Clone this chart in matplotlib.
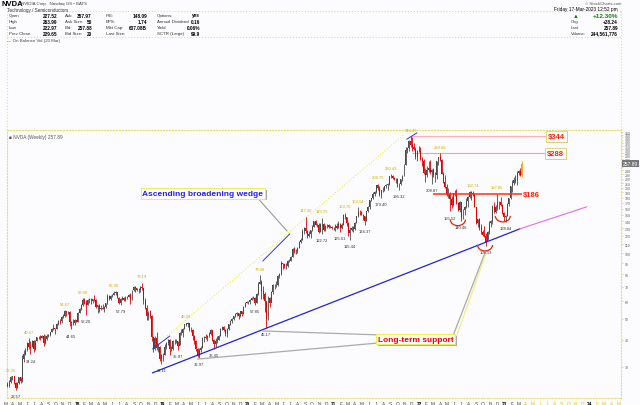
import matplotlib
matplotlib.use("Agg")
import matplotlib.pyplot as plt
import matplotlib.dates as mdates
import matplotlib.patheffects as pe
import numpy as np
import pandas as pd
from matplotlib.patches import Arc
from matplotlib.ticker import NullLocator
from matplotlib.transforms import ScaledTranslation

plt.rcParams['font.family'] = ['Liberation Sans', 'DejaVu Sans']

##------------------- data: weekly NVDA candles (split adjusted) -------------------##
first_week = '2017-03-10'
first_open = 25.0
last_open = 227.52

close_2017 = [24.6, 25.6, 26.9, 27.2, 25.4, 24.0, 25.2, 26.9, 25.8, 32.5, 34.3, 35.8, 38.6, 37.2, 37.1,
              39.3, 36.1, 39.3, 41.0, 41.0, 40.9, 41.7, 38.6, 40.2, 41.6, 42.1, 43.4, 44.6, 45.1, 44.7,
              47.1, 48.9, 48.6, 50.8, 51.3, 54.0, 53.5, 53.9, 48.1, 47.7, 47.6, 49.4, 48.4]
high_2017 = [25.6, 26.0, 27.35, 27.3, 27.2, 25.6, 25.5, 27.0, 26.9, 34.0, 36.0, 36.8, 38.9, 40.67, 39.5,
             40.0, 40.0, 39.7, 41.3, 41.5, 42.0, 42.1, 42.3, 42.0, 42.4, 42.5, 43.6, 45.2, 47.1, 45.5,
             47.6, 49.5, 49.6, 51.2, 52.5, 54.67, 54.0, 54.3, 54.0, 48.8, 49.6, 49.8, 49.5]
low_2017 = [24.2, 24.2, 25.3, 26.0, 25.0, 23.57, 24.0, 25.0, 25.3, 25.5, 31.5, 34.0, 35.5, 36.4, 34.24,
            37.0, 35.2, 35.8, 39.3, 40.2, 39.8, 40.7, 37.5, 38.4, 40.0, 41.2, 41.6, 43.2, 44.2, 42.6,
            44.6, 47.0, 47.2, 48.0, 50.2, 50.8, 51.7, 52.6, 46.5, 44.65, 46.7, 47.0, 48.2]

close_2018 = [53.3, 55.5, 57.5, 61.2, 58.8, 58.0, 60.8, 61.8, 60.0, 61.3, 61.2, 56.5, 57.9, 55.5, 56.0,
              55.5, 56.8, 58.8, 63.7, 61.5, 63.7, 64.5, 65.5, 66.2, 62.5, 59.2, 61.7, 62.5, 61.2, 62.5,
              63.2, 64.2, 61.2, 67.5, 70.2, 69.2, 67.5, 67.5, 70.2, 68.8, 61.2, 56.0, 51.2, 53.3, 51.2,
              41.0, 36.3, 40.8, 36.5, 37.0, 32.5, 34.0]
high_2018 = [53.6, 56.0, 58.3, 62.0, 62.1, 61.0, 61.8, 62.0, 62.5, 61.6, 64.3, 61.6, 58.0, 58.5, 57.6,
             58.1, 57.2, 59.0, 64.7, 64.0, 64.0, 65.2, 66.9, 66.7, 66.3, 63.0, 62.0, 63.3, 63.0, 63.8,
             63.8, 65.0, 65.5, 67.9, 70.5, 70.8, 69.5, 68.9, 70.8, 73.19, 69.5, 62.5, 57.5, 54.5, 54.8,
             52.0, 41.5, 41.5, 43.3, 38.5, 37.5, 34.3]
low_2018 = [48.5, 53.0, 54.8, 57.3, 58.5, 52.2, 57.5, 59.2, 58.3, 58.8, 60.3, 55.8, 53.0, 53.5, 55.0,
            55.2, 53.7, 56.0, 58.5, 60.8, 61.0, 62.8, 64.0, 64.2, 62.0, 58.3, 57.79, 61.2, 60.5, 60.5,
            61.5, 62.8, 58.5, 61.0, 67.0, 66.5, 66.8, 65.8, 66.5, 67.5, 58.2, 55.5, 49.2, 49.5, 50.5,
            39.5, 35.0, 36.0, 35.8, 35.0, 32.0, 31.11]

close_2019 = [34.2, 37.0, 38.8, 40.0, 36.3, 36.2, 39.5, 39.3, 39.3, 37.5, 43.0, 42.8, 45.0, 47.0, 47.5,
              47.5, 44.5, 44.5, 41.5, 39.5, 36.2, 33.8, 36.0, 36.5, 40.8, 41.0, 40.8, 41.5, 42.5, 44.2,
              40.0, 38.3, 39.3, 40.0, 41.8, 45.0, 45.7, 44.5, 42.5, 45.0, 47.0, 48.8, 50.0, 51.2, 52.5,
              53.0, 51.2, 54.2, 52.5, 56.7, 59.2, 59.5]
high_2019 = [34.8, 38.2, 39.0, 40.5, 40.2, 37.5, 40.0, 40.2, 40.2, 39.5, 43.4, 44.6, 45.2, 47.3, 48.0,
             48.1, 47.8, 45.8, 44.8, 42.0, 39.8, 36.5, 36.5, 37.5, 41.0, 41.6, 42.3, 42.0, 43.5, 44.7,
             44.4, 40.5, 40.8, 41.5, 42.0, 45.3, 46.4, 46.2, 45.0, 45.3, 47.5, 49.2, 50.5, 51.5, 53.0,
             53.5, 53.2, 54.5, 54.5, 57.0, 59.8, 60.3]
low_2019 = [31.9, 34.0, 36.2, 38.0, 34.0, 35.4, 36.0, 38.3, 38.5, 35.97, 37.8, 41.9, 41.4, 44.8, 46.2,
            46.0, 44.0, 43.5, 39.8, 38.3, 35.6, 33.5, 32.97, 35.3, 36.5, 39.0, 40.3, 39.5, 41.0, 42.0,
            39.3, 36.45, 37.0, 38.8, 39.8, 41.5, 44.5, 44.0, 41.8, 41.4, 44.5, 46.8, 48.0, 49.3, 50.8,
            51.7, 50.0, 51.0, 51.3, 52.3, 56.3, 58.8]

close_2020 = [59.9, 61.0, 62.5, 62.5, 59.2, 65.0, 72.5, 73.8, 67.0, 65.0, 60.0, 49.8, 62.0, 59.0, 66.2,
              71.2, 71.2, 71.2, 78.7, 80.0, 90.0, 88.7, 87.5, 87.5, 92.5, 92.5, 96.2, 105.0, 102.0, 102.5,
              106.0, 112.5, 115.5, 127.0, 131.0, 126.0, 120.0, 122.5, 127.5, 132.5, 140.0, 135.0, 135.0,
              125.0, 136.0, 136.0, 127.5, 133.8, 135.0, 132.5, 132.5, 130.0]
high_2020 = [60.0, 61.5, 63.0, 63.5, 62.8, 65.4, 73.5, 79.08, 75.0, 70.5, 66.5, 60.5, 63.5, 63.0, 67.0,
             72.5, 72.0, 74.5, 79.0, 81.0, 92.0, 90.3, 89.5, 90.0, 93.3, 94.0, 97.0, 105.8, 106.5, 104.0,
             107.0, 114.0, 117.0, 128.5, 132.0, 147.3, 128.0, 126.0, 128.0, 135.0, 141.0, 141.5, 137.5,
             137.5, 137.5, 145.75, 137.0, 135.0, 136.5, 136.0, 135.0, 133.5]
low_2020 = [58.5, 58.6, 60.8, 61.5, 57.85, 59.0, 64.5, 72.0, 61.5, 61.8, 53.5, 45.17, 49.5, 56.5, 59.5,
            65.0, 68.3, 70.0, 70.5, 76.5, 79.5, 84.3, 85.7, 84.5, 86.5, 91.0, 92.0, 95.8, 99.8, 99.0,
            100.5, 105.5, 111.0, 115.0, 122.0, 124.0, 117.5, 118.5, 118.0, 127.0, 132.0, 134.5, 131.5,
            123.8, 125.5, 122.72, 126.5, 127.0, 131.0, 130.5, 130.0, 128.5]

close_2021 = [130.5, 133.2, 130.0, 136.0, 130.0, 135.0, 150.0, 146.0, 137.5, 123.8, 127.5, 130.0, 128.8,
              137.5, 147.5, 155.0, 153.8, 150.0, 147.5, 141.2, 156.0, 162.5, 175.0, 178.8, 186.0, 190.0,
              205.0, 200.0, 185.0, 195.0, 195.0, 203.0, 205.0, 208.0, 226.0, 226.0, 222.0, 219.0, 220.0,
              207.0, 208.0, 218.0, 227.0, 255.0, 297.0, 304.0, 329.0, 315.0, 306.0, 302.0, 277.0, 296.0,
              294.0]
high_2021 = [131.5, 136.0, 137.0, 140.0, 138.0, 137.5, 151.5, 153.7, 147.0, 139.0, 132.0, 133.0, 133.5,
             139.0, 148.5, 162.14, 158.0, 157.0, 151.5, 148.0, 157.0, 164.0, 176.0, 179.5, 190.0, 192.0,
             206.0, 208.75, 204.0, 196.0, 200.5, 204.0, 207.0, 210.0, 227.0, 230.43, 229.0, 225.0, 222.0,
             221.0, 210.5, 219.0, 229.0, 258.0, 308.0, 307.0, 332.0, 346.47, 341.0, 320.0, 306.0, 297.5,
             310.0]
low_2021 = [128.3, 127.0, 128.5, 129.8, 125.61, 129.5, 134.5, 144.0, 133.0, 120.5, 115.44, 126.0, 124.5,
            128.0, 137.0, 146.0, 150.5, 149.0, 142.5, 134.37, 141.0, 155.0, 160.0, 173.0, 176.5, 184.0,
            189.5, 195.0, 184.0, 179.40, 191.5, 192.0, 199.0, 195.5, 206.0, 222.0, 220.0, 216.5, 209.5,
            201.5, 195.32, 206.0, 215.5, 226.0, 254.0, 290.0, 296.0, 309.0, 295.0, 298.0, 271.0, 264.0,
            292.0]

close_2022 = [272.0, 265.0, 233.0, 228.0, 240.0, 245.0, 236.0, 242.0, 229.0, 229.0, 264.0, 276.0, 268.0,
              232.0, 212.0, 202.0, 185.0, 187.0, 177.0, 167.0, 188.0, 187.0, 170.0, 158.0, 171.0, 145.0,
              158.0, 163.0, 173.0, 181.0, 191.0, 188.0, 187.0, 163.0, 137.0, 143.0, 131.0, 125.0, 121.0,
              120.0, 112.0, 125.0, 138.0, 141.0, 163.0, 154.0, 163.0, 171.0, 172.0, 166.0, 153.0, 146.0]
high_2022 = [307.0, 276.0, 270.0, 245.0, 252.0, 265.0, 267.0, 244.0, 245.0, 236.0, 265.0, 277.5, 289.46,
             272.0, 235.0, 228.0, 208.0, 200.0, 190.0, 184.0, 189.0, 196.0, 198.0, 172.0, 173.0, 172.0,
             160.0, 164.0, 180.0, 182.5, 192.0, 192.0, 192.74, 188.0, 163.5, 144.0, 145.0, 136.0, 128.0,
             133.5, 123.5, 126.0, 140.0, 142.0, 167.0, 171.0, 166.0, 187.85, 174.0, 182.0, 168.0, 154.0]
low_2022 = [268.0, 252.0, 232.0, 213.0, 225.0, 237.0, 230.0, 208.87, 225.0, 212.5, 218.0, 255.0, 265.0,
            230.0, 211.0, 200.0, 182.5, 180.0, 155.52, 161.0, 164.0, 183.5, 169.0, 155.7, 155.0, 140.46,
            143.0, 149.0, 162.0, 163.0, 180.0, 175.0, 183.0, 162.5, 136.5, 132.0, 128.0, 123.0, 119.5,
            119.0, 108.13, 115.0, 123.0, 132.5, 136.0, 153.0, 153.5, 158.0, 159.5, 164.0, 151.0, 140.5]

close_2023 = [148.6, 169.0, 178.4, 203.7, 211.0, 217.1, 213.9, 232.9, 239.6, 229.65, 257.89]
high_2023 = [150.0, 169.5, 179.5, 204.0, 216.0, 225.0, 229.0, 238.0, 241.0, 245.0, 263.99]
low_2023 = [138.84, 148.0, 165.0, 177.5, 190.5, 206.0, 211.0, 205.0, 228.0, 226.0, 222.97]

# swing-point labels printed on the chart
pivot_dates = ['2017-03-24', '2017-06-09', '2017-11-10', '2018-01-26', '2018-06-08', '2018-10-05',
               '2019-04-12', '2020-02-21', '2020-09-04', '2020-11-13', '2021-02-19', '2021-04-16',
               '2021-07-09', '2021-09-03', '2021-11-26', '2022-04-01', '2022-08-19', '2022-12-02',
               '2017-04-14', '2017-06-16', '2017-12-08', '2018-02-09', '2018-07-06', '2018-12-28',
               '2019-03-08', '2019-06-07', '2019-08-09', '2020-01-31', '2020-03-20', '2020-11-13',
               '2021-01-29', '2021-03-12', '2021-05-14', '2021-07-23', '2021-10-08', '2022-02-25',
               '2022-05-13', '2022-07-01', '2022-10-14', '2023-01-06']
pivot_prices = [27.35, 40.67, 54.67, 62.0, 66.9, 73.19, 48.0, 79.08, 147.3, 145.75, 153.7, 162.14,
                208.75, 230.43, 346.47, 289.46, 192.74, 187.85,
                23.57, 34.24, 44.65, 52.2, 57.79, 31.11, 35.97, 32.97, 36.45, 57.85, 45.17, 122.72,
                125.61, 115.44, 134.37, 179.40, 195.32, 208.87, 155.52, 140.46, 108.13, 138.84]
pivot_is_high = [True] * 18 + [False] * 22

# trend lines and levels drawn by the analyst (date, price)
support_dates = ['2018-11-20', '2023-03-07']
support_prices = [28.2, 129.2]
support_ext_dates = ['2023-03-07', '2023-12-18']
support_ext_prices = [129.2, 163.2]
wedge_top_dates = ['2019-01-20', '2021-11-01']
wedge_top_prices = [41.6, 353.0]
blue_seg_dates = [['2018-11-20', '2019-02-01'], ['2020-03-05', '2020-06-28'], ['2021-11-10', '2021-12-23']]
blue_seg_prices = [[36.3, 41.6], [92.1, 122.6], [334.0, 357.0]]
levels = [186, 288, 344]
level_starts = ['2022-03-01', '2021-12-01', '2021-11-23']
level_ends = ['2023-03-16', '2023-07-01', '2023-07-05']
cup_dates = ['2022-06-16', '2022-10-10', '2022-12-25']
cup_prices = [142.6, 109.1, 148.3]

tick_prices = [30, 40, 50, 60, 70, 80, 90] + list(range(100, 370, 10))
hidden_ticks = [250, 260]   # sit under the last-price tag

##------------------- build series -------------------##
closes = np.array(close_2017 + close_2018 + close_2019 + close_2020 + close_2021 + close_2022 + close_2023)
highs = np.array(high_2017 + high_2018 + high_2019 + high_2020 + high_2021 + high_2022 + high_2023)
lows = np.array(low_2017 + low_2018 + low_2019 + low_2020 + low_2021 + low_2022 + low_2023)
weeks = pd.date_range(first_week, periods=len(closes), freq='W-FRI')
opens = np.r_[first_open, closes[:-1]]
opens[-1] = last_open
prev = np.r_[first_open, closes[:-1]]

W, H = 640, 406
fig = plt.figure(figsize=(6.4, 4.06), dpi=100)
fig.patch.set_facecolor('#fcfcfe')

def fx(x):
    return x / W

def fy(y):
    return 1 - y / H

ax = fig.add_axes([fx(7), fy(399), (621 - 7) / W, (399 - 131) / H])
ax.set_facecolor('#fcfcfe')
ax.set_yscale('log')
ax.set_ylim(21.6, 368)
ax.set_xlim(mdates.datestr2num('2017-03-08'), mdates.datestr2num('2024-05-13'))

x = mdates.date2num(weeks)
col = np.where(closes >= prev, '#4a4a4a', '#e00000').astype(object)
col[-1] = '#ff9900'
ax.vlines(x, lows, highs, colors=list(col), lw=0.6, zorder=3)
ax.bar(x, np.abs(closes - opens) + 0.01, bottom=np.minimum(opens, closes), width=4.2,
       color=list(col), lw=0, zorder=3)

# pivot labels
for d, p, hi in zip(pivot_dates, pivot_prices, pivot_is_high):
    dx = mdates.datestr2num(d)
    ax.annotate(f"{p:.2f}", (dx, p), xytext=(0, 3 if hi else -3), textcoords='offset points',
                ha='center', va='bottom' if hi else 'top', fontsize=3.0,
                color='#c9b000' if hi else '#333333', zorder=6)

# trend lines
ax.plot(mdates.datestr2num(support_dates), support_prices, color='#2222dd', lw=0.9, zorder=4)
ax.plot(mdates.datestr2num(support_ext_dates), support_ext_prices, color='#ee66ee', lw=0.8, zorder=4)
ax.plot(mdates.datestr2num(wedge_top_dates), wedge_top_prices, color='#eeee44', lw=0.8, ls=':', zorder=2)
for ds, ps in zip(blue_seg_dates, blue_seg_prices):
    ax.plot(mdates.datestr2num(ds), ps, color='#3333ee', lw=0.7, zorder=4)

# horizontal levels
ax.hlines(levels[0], mdates.datestr2num(level_starts[0]), mdates.datestr2num(level_ends[0]),
          color='#ff3300', lw=1.1, zorder=5)
ax.hlines(levels[1], mdates.datestr2num(level_starts[1]), mdates.datestr2num(level_ends[1]),
          color='#ff9c9c', lw=0.8, zorder=2)
ax.hlines(levels[2], mdates.datestr2num(level_starts[2]), mdates.datestr2num(level_ends[2]),
          color='#ffb0b0', lw=0.8, zorder=2)
ax.text(mdates.datestr2num('2023-03-22'), levels[0], '$186', color='#ff2200', fontsize=5.5,
        fontweight='bold', va='center', ha='left', zorder=7)

def boxed(t, edge):
    t.get_bbox_patch().set_path_effects([
        pe.SimplePatchShadow(offset=(1.2, -1.2), shadow_rgbFace='#aaaaaa', alpha=1.0), pe.Normal()])
    t.get_bbox_patch().set_edgecolor(edge)

for lv, d in zip(levels[1:], level_ends[1:]):
    t = ax.text(mdates.datestr2num(d), lv, f'${lv}', color='#ff2200', fontsize=5.5, fontweight='bold',
                va='center', ha='left', zorder=7,
                bbox=dict(boxstyle='square,pad=0.25', fc='white', lw=0.6))
    boxed(t, '#e0d060')

# red cups under the lows
for d, p in zip(cup_dates, cup_prices):
    tr = fig.dpi_scale_trans + ScaledTranslation(mdates.datestr2num(d), p, ax.transData)
    ax.add_patch(Arc((0, 0), 0.15, 0.12, theta1=180, theta2=360, color='#ee2200', lw=0.9,
                     transform=tr, zorder=6))

# callouts
def callout(d, p, text, color):
    t = ax.text(mdates.datestr2num(d), p, text, color=color, fontsize=6, fontweight='bold',
                ha='center', va='center', zorder=8,
                bbox=dict(boxstyle='square,pad=0.2', fc='white', lw=0.7))
    boxed(t, '#eeee55')

callout('2019-06-22', 188, 'Ascending broadening wedge', '#2020ee')
ax.plot(mdates.datestr2num(['2020-02-12', '2020-06-16']), [179, 126.5], color='#999999', lw=0.8, zorder=4)

callout('2021-12-19', 40.3, 'Long-term support', '#ee0000')
ax.plot(mdates.datestr2num(['2021-07-17', '2020-03-05']), [42.1, 43.9], color='#aaaaaa', lw=0.9, zorder=4)
ax.plot(mdates.datestr2num(['2021-07-17', '2019-06-01']), [38.7, 32.6], color='#aaaaaa', lw=0.9, zorder=4)
ax.plot(mdates.datestr2num(['2022-05-26', '2022-10-10']), [41.6, 100.3], color='#aaaaaa', lw=0.9, zorder=4)
ax.plot(mdates.datestr2num(['2022-06-05', '2022-10-15']), [40.0, 100.3], color='#eeee77', lw=0.8, zorder=4)

# axes styling
for s in ax.spines.values():
    s.set_linestyle(':')
    s.set_color('#e6e070')
    s.set_linewidth(0.8)
ax.yaxis.tick_right()
ax.set_yticks(tick_prices)
ax.set_yticklabels(['' if t in hidden_ticks else str(t) for t in tick_prices], fontsize=2.6, color='#666666')
ax.yaxis.set_minor_locator(NullLocator())
ax.tick_params(axis='y', length=1.5, width=0.5, color='#e0d060', pad=1)
ax.set_xticks([])

# current price tag
ax.text(1.003, np.log(257.89 / 21.6) / np.log(368 / 21.6), '257.89', transform=ax.transAxes,
        fontsize=3.6, color='white', va='center', ha='left', zorder=9,
        bbox=dict(boxstyle='square,pad=0.15', fc='#777777', ec='none'))

# month / year labels
months = pd.date_range('2017-03-01', '2024-05-01', freq='MS')
for m in months:
    if m.month == 1:
        lab, fw = m.strftime('%y'), 'bold'
    else:
        lab, fw = m.strftime('%b')[0], 'normal'
    c = '#444444' if m < pd.Timestamp('2023-04-01') else '#d8c800'
    ax.text(mdates.date2num(m), -0.012, lab, transform=ax.get_xaxis_transform(), ha='center', va='top',
            fontsize=3.4, color='#000000' if fw == 'bold' else c, fontweight=fw, clip_on=False)

ax.text(0.004, 0.985, '■ NVDA (Weekly) 257.89', transform=ax.transAxes, fontsize=3.4, color='#555555',
        va='top', ha='left')

##------------------- header -------------------##
fig.text(fx(2), fy(4.5), 'NVDA', fontsize=5.5, fontweight='bold', va='center')
fig.text(fx(21), fy(4.5), 'NVIDIA Corp.  Nasdaq GS • BATS', fontsize=3.2, color='#444444', va='center')
fig.text(fx(7), fy(10.5), 'Technology / Semiconductors', fontsize=3.3, color='#333333', va='center')

head_labels = [['Open', 'High', 'Low', 'Prev Close'], ['Ask:', 'Ask Size:', 'Bid:', 'Bid Size:'],
               ['P/E:', 'EPS:', 'Mkt Cap:', 'Last Size:'], ['Options:', 'Annual Dividend', 'Yield', 'SCTR (Large)']]
head_values = [['227.52', '263.99', '222.97', '229.65'], ['357.97', '50', '257.88', '20'],
               ['148.09', '1.74', '637.08B', ''], ['yes', '0.16', '0.06%', '99.9']]
label_x = [9, 65, 106, 157]
value_x = [57, 92, 147, 200]
row_y = [16, 22, 28, 34]
for lx, vx, labs, vals in zip(label_x, value_x, head_labels, head_values):
    for yy, lab, val in zip(row_y, labs, vals):
        fig.text(fx(lx), fy(yy), lab, fontsize=3.2, color='#333333', va='center')
        fig.text(fx(vx), fy(yy), val, fontsize=3.4, fontweight='bold', ha='right', va='center')

fig.text(fx(621), fy(4), '© StockCharts.com', fontsize=3.1, color='#555555', ha='right', va='center')
fig.text(fx(618), fy(10), 'Friday 17-Mar-2023 12:52 pm', fontsize=3.4, ha='right', va='center')
fig.text(fx(576), fy(16), '▲', fontsize=4.2, color='#1a7a1a', ha='center', va='center')
fig.text(fx(618), fy(16), '+12.30%', fontsize=4.6, color='#1a7a1a', fontweight='bold', ha='right', va='center')
for yy, lab, val in zip([22, 28, 34], ['Chg', 'Last', 'Volume:'], ['+28.24', '257.89', '244,561,776']):
    fig.text(fx(571), fy(yy), lab, fontsize=3.1, color='#333333', va='center')
    fig.text(fx(618), fy(yy), val, fontsize=3.4, fontweight='bold', ha='right', va='center')

fig.text(fx(7), fy(41), '— On Balance Vol (20 Mar)', fontsize=3.2, color='#444444', va='center')

# dotted frame lines of the panels
for yy in [12, 38, 131]:
    fig.add_artist(plt.Line2D([fx(7), fx(621)], [fy(yy), fy(yy)], color='#e6e070', lw=0.8, ls=':'))
fig.add_artist(plt.Line2D([fx(7), fx(7)], [fy(12), fy(131)], color='#e6e070', lw=0.8, ls=':'))
fig.add_artist(plt.Line2D([fx(621), fx(621)], [fy(12), fy(131)], color='#e6e070', lw=0.8, ls=':'))

fig.savefig('out.png', dpi=100, facecolor=fig.get_facecolor())
